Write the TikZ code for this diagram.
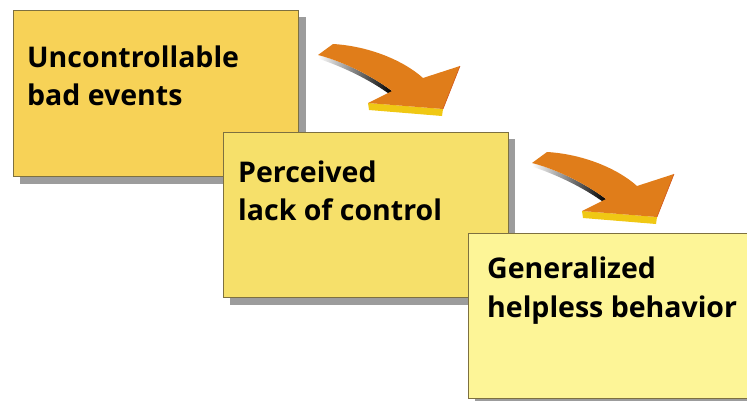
\documentclass[tikz,border=0pt]{standalone}
\usepackage{fontspec}
\setmainfont{Open Sans}
\begin{document}
\begin{tikzpicture}[x=1pt,y=-1pt,
  shadowbox/.style={fill=shadowgray,draw=none},
  card/.style={draw=cardedge,line width=0.8pt},
  lbl/.style={inner sep=0pt,anchor=base west,font=\fontsize{28.5}{38}\selectfont\bfseries,text=black},
  bigarrow/.pic={
    % dark side face of shaft
    \shade[left color=white,right color=black]
      (0,0) .. controls (20,5) and (50,18) .. (74,36) -- (74,41)
      .. controls (50,23) and (20,10) .. (1,4) -- cycle;
    % yellow thickness under head
    \fill[arrowyellow] (50,48) -- (125,54) -- (124,61) -- (51,55) -- cycle;
    % top face
    \fill[arroworange]
      (0,0) -- (15,-11) .. controls (50,-9) and (85,5) .. (105,23)
      -- (142,11) -- (125,54) -- (50,48) -- (74,36)
      .. controls (50,18) and (20,5) .. (0,0) -- cycle;
    \draw[arrowedge,line width=0.6pt] (142,11) -- (125,54);
  }]
\definecolor{shadowgray}{HTML}{9C9C9C}
\definecolor{cardedge}{HTML}{7D7040}
\definecolor{fillA}{HTML}{F7D257}
\definecolor{fillB}{HTML}{F6E06A}
\definecolor{fillC}{HTML}{FDF597}
\definecolor{arroworange}{HTML}{E07D1A}
\definecolor{arrowyellow}{HTML}{F0C814}
\definecolor{arrowedge}{HTML}{D2551A}
\useasboundingbox (0,0) rectangle (747,400);

% box 1
\fill[shadowbox] (20,17) rectangle (306,184);
\node[card,fill=fillA,anchor=north west,minimum width=285pt,minimum height=166pt,inner sep=0pt] (b1) at (13,10) {};
\node[lbl] (t1a) at (27,67) {Uncontrollable};
\node[lbl] (t1b) at (27,105) {bad events};

% box 2
\fill[shadowbox] (230,139) rectangle (515,305);
\node[card,fill=fillB,anchor=north west,minimum width=285pt,minimum height=165pt,inner sep=0pt] (b2) at (223,132) {};
\node[lbl] (t2a) at (238,182) {Perceived};
\node[lbl] (t2b) at (238,220) {lack of control};

% box 3
\fill[shadowbox] (475,240) rectangle (760,405);
\node[card,fill=fillC,anchor=north west,minimum width=290pt,minimum height=165pt,inner sep=0pt] (b3) at (468,233) {};
\node[lbl] (t3a) at (487,278) {Generalized};
\node[lbl] (t3b) at (487,317) {helpless behavior};

% arrows
\pic (a1) at (318,55) {bigarrow};
\pic (a2) at (532,163) {bigarrow};
\end{tikzpicture}
\end{document}
